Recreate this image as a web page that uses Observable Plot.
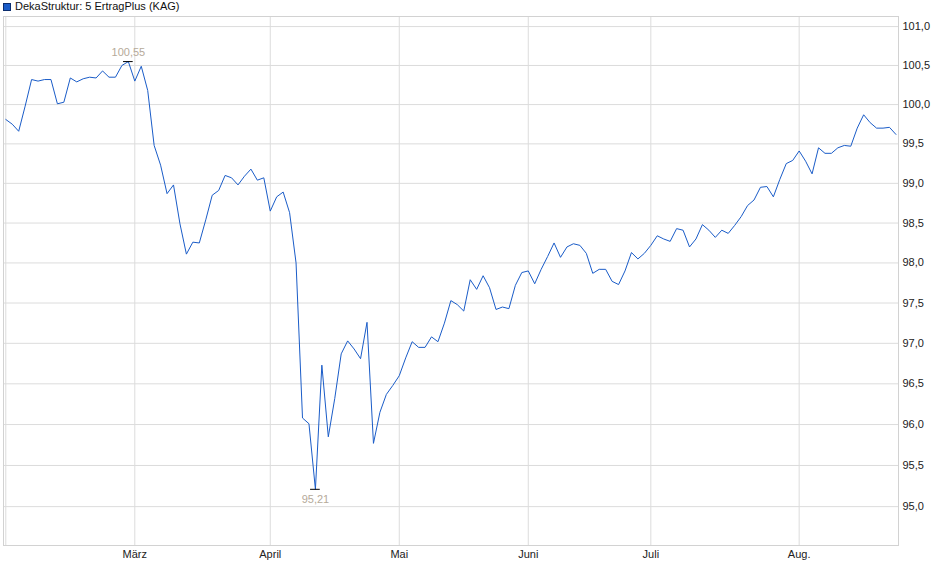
<!DOCTYPE html>
<html><head><meta charset="utf-8">
<script src="https://cdn.jsdelivr.net/npm/d3@7"></script>
<script src="https://cdn.jsdelivr.net/npm/@observablehq/plot@0.6"></script>
<style>
body{margin:0;background:#fff;font-family:"Liberation Sans",Arial,sans-serif;}
#legend{position:absolute;left:0;top:0;width:400px;height:14px;font-size:11px;color:#111;}
#legend .sw{position:absolute;left:3px;top:3px;width:6px;height:6px;background:#1a5cc8;border:1px solid #0b2d6e;}
#legend .tx{position:absolute;left:15px;top:0px;white-space:nowrap;line-height:13px;}
#chart{position:absolute;left:0;top:14px;}
</style></head><body>
<div id="legend"><div class="sw"></div><div class="tx" id="lgtext"></div></div>
<div id="chart"></div>
<script>
const seriesName = "DekaStruktur: 5 ErtragPlus (KAG)";
// one value per trading day, 3 Feb to 21 Aug
const values = [
  99.81, 99.75, 99.66, 99.98, 100.32, 100.30, 100.32, 100.32, 100.01, 100.03,
  100.34, 100.29, 100.33, 100.35, 100.34, 100.43, 100.35, 100.35, 100.50, 100.55,
  100.30, 100.49, 100.18, 99.48, 99.23, 98.87, 98.98, 98.49, 98.11, 98.26,
  98.25, 98.54, 98.85, 98.91, 99.10, 99.07, 98.98, 99.09, 99.18, 99.04,
  99.07, 98.65, 98.83, 98.89, 98.63, 98.00, 96.08, 96.01, 95.21, 96.73,
  95.85, 96.32, 96.87, 97.03, 96.93, 96.81, 97.26, 95.77, 96.15, 96.37,
  96.48, 96.60, 96.82, 97.02, 96.95, 96.95, 97.08, 97.02, 97.25, 97.53,
  97.48, 97.40, 97.79, 97.67, 97.84, 97.69, 97.42, 97.45, 97.43, 97.72,
  97.88, 97.90, 97.74, 97.92, 98.08, 98.25, 98.07, 98.20, 98.24, 98.22,
  98.12, 97.87, 97.92, 97.92, 97.77, 97.73, 97.90, 98.13, 98.05, 98.12,
  98.22, 98.34, 98.30, 98.27, 98.43, 98.41, 98.20, 98.30, 98.48, 98.41,
  98.32, 98.41, 98.37, 98.47, 98.58, 98.72, 98.79, 98.95, 98.96, 98.83,
  99.05, 99.25, 99.29, 99.41, 99.28, 99.12, 99.45, 99.38, 99.38, 99.45,
  99.48, 99.47, 99.70, 99.87, 99.77, 99.70, 99.70, 99.71, 99.62
];
const monthStarts = [0, 20, 41, 61, 81, 100, 123];
const monthLabels = ["", "März", "April", "Mai", "Juni", "Juli", "Aug."];
const yTicks = [95, 95.5, 96, 96.5, 97, 97.5, 98, 98.5, 99, 99.5, 100, 100.5, 101];

document.getElementById("lgtext").textContent = seriesName;

const data = values.map((v, i) => ({i, v}));
const hiIdx = d3.maxIndex(values), loIdx = d3.minIndex(values);
const hi = [data[hiIdx]], lo = [data[loIdx]];
const fmt2 = d => d.v.toFixed(2).replace(".", ",");
const fmt1 = d => d.toFixed(1).replace(".", ",");
const grid = "#dcdcdc";
const annoColor = "#b5aa9a";

const chart = Plot.plot({
  width: 940,
  height: 565,
  marginLeft: 3,
  marginRight: 42,
  marginTop: 2,
  marginBottom: 34,
  style: {fontFamily: "'Liberation Sans', Arial, sans-serif", fontSize: "11px", color: "#222", background: "#fff"},
  x: {type: "linear", domain: [-0.357, 138.4]},
  y: {type: "log", domain: [94.53, 101.13]},
  marks: [
    Plot.ruleY(yTicks, {stroke: grid, strokeWidth: 1}),
    Plot.ruleX(monthStarts, {stroke: grid, strokeWidth: 1}),
    Plot.frame({stroke: "#d2d2d2"}),
    Plot.lineY(data, {x: "i", y: "v", stroke: "#1a5cc8", strokeWidth: 1}),
    Plot.ruleY(hi.concat(lo), {y: "v", x1: d => d.i - 0.75, x2: d => d.i + 0.75, stroke: "#000", strokeWidth: 1}),
    Plot.text(hi, {x: "i", y: "v", text: fmt2, dy: -9, fill: annoColor, fontSize: 11}),
    Plot.text(lo, {x: "i", y: "v", text: fmt2, dy: 10, fill: annoColor, fontSize: 11}),
    Plot.axisY({anchor: "right", ticks: yTicks, tickFormat: fmt1, tickSize: 0, tickPadding: 4, label: null}),
    Plot.axisX({ticks: monthStarts.slice(1), tickFormat: d => monthLabels[monthStarts.indexOf(d)], tickSize: 0, tickPadding: 4.5, label: null})
  ]
});
document.getElementById("chart").appendChild(chart);
</script>
</body></html>
